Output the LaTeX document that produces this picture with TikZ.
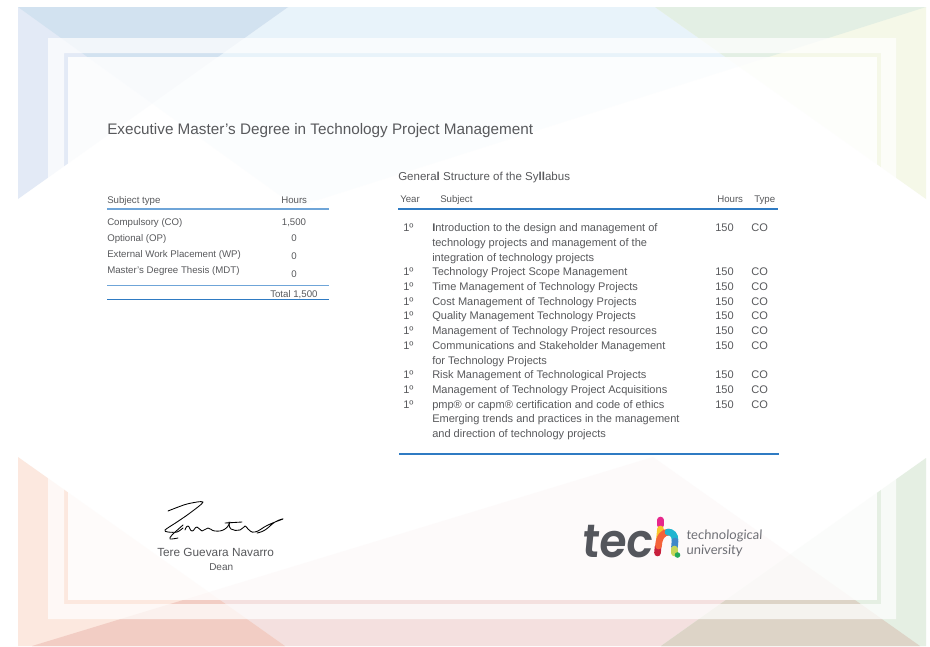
\documentclass[tikz,border=0pt]{standalone}
\usepackage{fontspec}
\setmainfont{Liberation Sans}
\newfontfamily\logofont{Poppins SemiBold}[FakeSlant=.1]
\newfontfamily\logotext{Lato}[FakeSlant=.06]
\definecolor{ink}{HTML}{58595C}
\definecolor{bluea}{HTML}{E8F3FA}
\definecolor{periw}{HTML}{E3EAF6}
\definecolor{blueb}{HTML}{D2E2F0}
\definecolor{yell}{HTML}{F5F8E8}
\definecolor{greena}{HTML}{E3EFE4}
\definecolor{pinka}{HTML}{F4E0DF}
\definecolor{peach}{HTML}{FCE8DF}
\definecolor{salmon}{HTML}{F2CDC4}
\definecolor{greenb}{HTML}{E5EFE3}
\definecolor{tan}{HTML}{DDD4C7}
\definecolor{rulea}{HTML}{2F7BC3}
\definecolor{ruleb}{HTML}{6FA5D8}
\definecolor{logoink}{HTML}{54565C}
\def\TriA{(18,7)--(926,7)--(296,207)--cycle}
\def\TriB{(18,7)--(288,7)--(18,199)--cycle}
\def\TriC{(655,7)--(926,7)--(926,199)--cycle}
\def\TriD{(32,646)--(920,646)--(653,457)--cycle}
\def\TriE{(18,457)--(18,646)--(285,646)--cycle}
\def\TriF{(926,458)--(926,646)--(661,646)--cycle}
\tikzset{
  txt/.style={anchor=base west,inner sep=0pt,text=ink},
  txtc/.style={anchor=base,inner sep=0pt,text=ink},
  row/.style={txt,font=\fontsize{8.28}{10}\selectfont},
  small/.style={txt,font=\fontsize{7.25}{9}\selectfont},
  smallc/.style={txtc,font=\fontsize{7.25}{9}\selectfont},
  hstroke/.style={line width=5pt,line cap=round},
  sign/.style={line width=.65pt,black,line cap=round,line join=round}
}
\begin{document}
\begin{tikzpicture}[x=.75pt,y=-.75pt]
\useasboundingbox (0,0) rectangle (930,646);
\fill[white] (0,0) rectangle (930,646);
% corner triangles
\fill[bluea] \TriA; \fill[periw] \TriB; \fill[yell] \TriC;
\begin{scope}\clip \TriA; \fill[blueb] \TriB; \fill[greena] \TriC; \end{scope}
\fill[pinka] \TriD; \fill[peach] \TriE; \fill[greenb] \TriF;
\begin{scope}\clip \TriD; \fill[salmon] \TriE; \fill[tan] \TriF; \end{scope}
% frames
\fill[white,opacity=.72,even odd rule] (48,38) rectangle (896,619) (64,53) rectangle (881,604);
\fill[white,opacity=.86] (68,57) rectangle (877,600);
% title
\node[txt,font=\fontsize{11.46}{13}\selectfont] (title) at (107,134) {Executive Master’s Degree in Technology Project Management};
% left table
\node[small] (lh1) at (107,203.5) {Subject type};
\node[small] (lh2) at (281,203.5) {Hours};
\draw[ruleb,line width=1pt] (107,209) -- (329,209);
\node[small] (l1) at (107,225) {Compulsory (CO)};
\node[small] (l2) at (107,241) {Optional (OP)};
\node[small] (l3) at (107,257) {External Work Placement (WP)};
\node[small] (l4) at (107,273) {Master’s Degree Thesis (MDT)};
\node[smallc] (v1) at (294,225.5) {1,500};
\node[smallc] (v2) at (294,241.5) {0};
\node[smallc] (v3) at (294,259.5) {0};
\node[smallc] (v4) at (294,277.5) {0};
\draw[ruleb,line width=.7pt] (107,285.5) -- (329,285.5);
\node[small] (tot) at (270,297) {Total 1,500};
\draw[rulea,line width=.9pt] (107,299.5) -- (329,299.5);
% right table
\node[txt,font=\fontsize{8.65}{11}\selectfont] (gs) at (398,180.5) {Genera\textbf{l} Structure of the Sy\textbf{ll}abus};
\node[small] (rh1) at (400,202.5) {Year};
\node[small] (rh2) at (440,202.5) {Subject};
\node[small] (rh3) at (717,202.5) {Hours};
\node[small] (rh4) at (754,202.5) {Type};
\draw[rulea,line width=1.5pt] (398,208.5) -- (778,208.5);
\node[row] (s1a) at (432,231.5) {\textbf{I}ntroduction to the design and management of};
\node[row] (s1b) at (432,246) {technology projects and management of the};
\node[row] (s1c) at (432,261) {integration of technology projects};
\node[row] (s2) at (432,275.5) {Technology Project Scope Management};
\node[row] (s3) at (432,290.3) {Time Management of Technology Projects};
\node[row] (s4) at (432,305) {Cost Management of Technology Projects};
\node[row] (s5) at (432,319.7) {Quality Management Technology Projects};
\node[row] (s6) at (432,334.5) {Management of Technology Project resources};
\node[row] (s7a) at (432,349) {Communications and Stakeholder Management};
\node[row] (s7b) at (432,364) {for Technology Projects};
\node[row] (s8) at (432,378.5) {Risk Management of Technological Projects};
\node[row] (s9) at (432,393.3) {Management of Technology Project Acquisitions};
\node[row] (s10) at (432,408) {pmp® or capm® certification and code of ethics};
\node[row] (s11a) at (432,422.7) {Emerging trends and practices in the management};
\node[row] (s11b) at (432,437.5) {and direction of technology projects};
\foreach \n/\yy in {1/231.5,2/275.5,3/290.3,4/305,5/319.7,6/334.5,7/349,8/378.5,9/393.3,10/408}{
  \node[row] (yr\n) at (403,\yy) {1º};
  \node[row] (hr\n) at (715,\yy) {150};
  \node[row] (ty\n) at (751,\yy) {CO};
}
\draw[rulea,line width=1.5pt] (399,454) -- (779,454);
% signature
\draw[sign] plot[smooth,tension=.5] coordinates {(168,511) (187,504) (203,502) (190,513) (177,522) (165,530) (168,532) (177,532) (183,528)};
\draw[sign] plot[smooth,tension=.5] coordinates {(183,525) (172,535) (170,539) (178,538)};
\draw[sign] plot[smooth,tension=.9] coordinates {(185,530) (188,526) (192,531) (197,527) (202,531) (208,528) (215,531) (225,529) (230,522)};
\draw[sign] plot[smooth,tension=.8] coordinates {(229,522) (231,529) (240,530) (245,526) (248,529) (255,532) (268,525) (283,519) (275,522) (265,530) (257,533)};
\draw[sign] (225,523) -- (242,522);
\node[txt,font=\fontsize{8.85}{10}\selectfont] (name) at (157,556) {Tere Guevara Navarro};
\node[txt,font=\fontsize{7.5}{9}\selectfont] (dean) at (209,570.5) {Dean};
% logo
\node[anchor=base west,inner sep=0pt,text=logoink,font=\logofont\fontsize{35}{40}\selectfont] (tec) at (581,557) {\scalebox{.95}[1]{tec}};
\draw[hstroke,color={rgb,255:red,230;green,40;blue,140}] (660.5,520) -- (660.5,525);
\draw[hstroke,color={rgb,255:red,249;green,198;blue,45}] (660.5,529) -- (659.5,539);
\draw[hstroke,color={rgb,255:red,200;green,32;blue,60}] (658,547) -- (657.5,553);
\draw[hstroke,color={rgb,255:red,244;green,99;blue,58}] (658.5,546) .. controls (659,537) and (663,532) .. (669,532);
\draw[hstroke,color={rgb,255:red,31;green,181;blue,208}] (668,532) .. controls (672,532) and (675,535) .. (675,540);
\draw[hstroke,color={rgb,255:red,63;green,135;blue,200}] (675,541) -- (674.5,547);
\draw[hstroke,color={rgb,255:red,198;green,214;blue,90}] (674.5,549) -- (674.5,553);
\fill[color={rgb,255:red,34;green,168;blue,90}] (677.5,555) circle (2.8);
\node[anchor=base west,inner sep=0pt,text=logoink!85,font=\logotext\fontsize{9.8}{12}\selectfont] (tl1) at (686,539.5) {technological};
\node[anchor=base west,inner sep=0pt,text=logoink!85,font=\logotext\fontsize{9.8}{12}\selectfont] (tl2) at (686,554.5) {university};
\end{tikzpicture}
\end{document}
